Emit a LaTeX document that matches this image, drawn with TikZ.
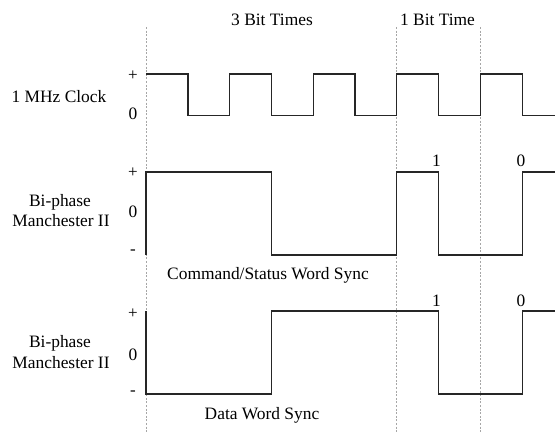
\documentclass[tikz,border=0pt]{standalone}
\usepackage{fontspec}
\setmainfont{Liberation Serif}
\begin{document}
\begin{tikzpicture}[x=1pt,y=-1pt,
  wave/.style={line width=1.3pt, draw=black!85, line join=miter},
  bitline/.style={draw=gray!70, line width=0.7pt, dash pattern=on 2pt off 1.6pt},
  txt/.style={font=\fontsize{17.4}{20}\selectfont, inner sep=0pt, anchor=base},
  lvl/.style={font=\fontsize{17}{20}\selectfont, inner sep=0pt}]
\useasboundingbox (0,0) rectangle (555,432);

% bit-time boundaries
\coordinate (b0t) at (146,27);   \coordinate (b0b) at (146,432);
\coordinate (b1t) at (396.7,27); \coordinate (b1b) at (396.7,432);
\coordinate (b2t) at (480.4,27); \coordinate (b2b) at (480.4,432);
\draw[bitline] (b0t) -- (b0b);
\draw[bitline] (b1t) -- (b1b);
\draw[bitline] (b2t) -- (b2b);

% headings
\node[txt] (h3) at (272,25) {3 Bit Times};
\node[txt] (h1) at (437.5,25) {1 Bit Time};

% 1 MHz clock
\node[txt] (clk) at (59,102) {1 MHz Clock};
\node[lvl] (cp) at (133,76) {+};
\node[txt] (cz) at (133,119) {0};
\draw[wave] (146,74) -- (188,74) -- (188,115.5) -- (229.6,115.5) -- (229.6,74)
  -- (271.4,74) -- (271.4,115.5) -- (313.2,115.5) -- (313.2,74)
  -- (355,74) -- (355,115.5) -- (396.8,115.5) -- (396.8,74)
  -- (438.6,74) -- (438.6,115.5) -- (480.4,115.5) -- (480.4,74)
  -- (522.2,74) -- (522.2,115.5) -- (555,115.5);

% command/status word sync
\node[txt] (m1a) at (60,206) {Bi-phase};
\node[txt] (m1b) at (61,226) {Manchester II};
\node[lvl] (m1p) at (133,172.5) {+};
\node[txt] (m1z) at (133,217) {0};
\node[lvl] (m1m) at (133,252) {-};
\draw[wave] (146,255) -- (146,172) -- (271.4,172) -- (271.4,255) -- (396.8,255)
  -- (396.8,172) -- (438.6,172) -- (438.6,255) -- (522.2,255) -- (522.2,172) -- (555,172);
\node[txt] (m1one) at (436.5,166.5) {1};
\node[txt] (m1zero) at (521,166.5) {0};
\node[txt] (cs) at (268,279) {Command/Status Word Sync};

% data word sync
\node[txt] (m2a) at (60,347) {Bi-phase};
\node[txt] (m2b) at (61,368) {Manchester II};
\node[lvl] (m2p) at (133,314) {+};
\node[txt] (m2z) at (133,360) {0};
\node[lvl] (m2m) at (133,393) {-};
\draw[wave] (146,311) -- (146,394) -- (271.4,394) -- (271.4,311) -- (438.6,311)
  -- (438.6,394) -- (522.2,394) -- (522.2,311) -- (555,311);
\node[txt] (m2one) at (436.5,306.5) {1};
\node[txt] (m2zero) at (521,306.5) {0};
\node[txt] (ds) at (262,419) {Data Word Sync};
\end{tikzpicture}
\end{document}
